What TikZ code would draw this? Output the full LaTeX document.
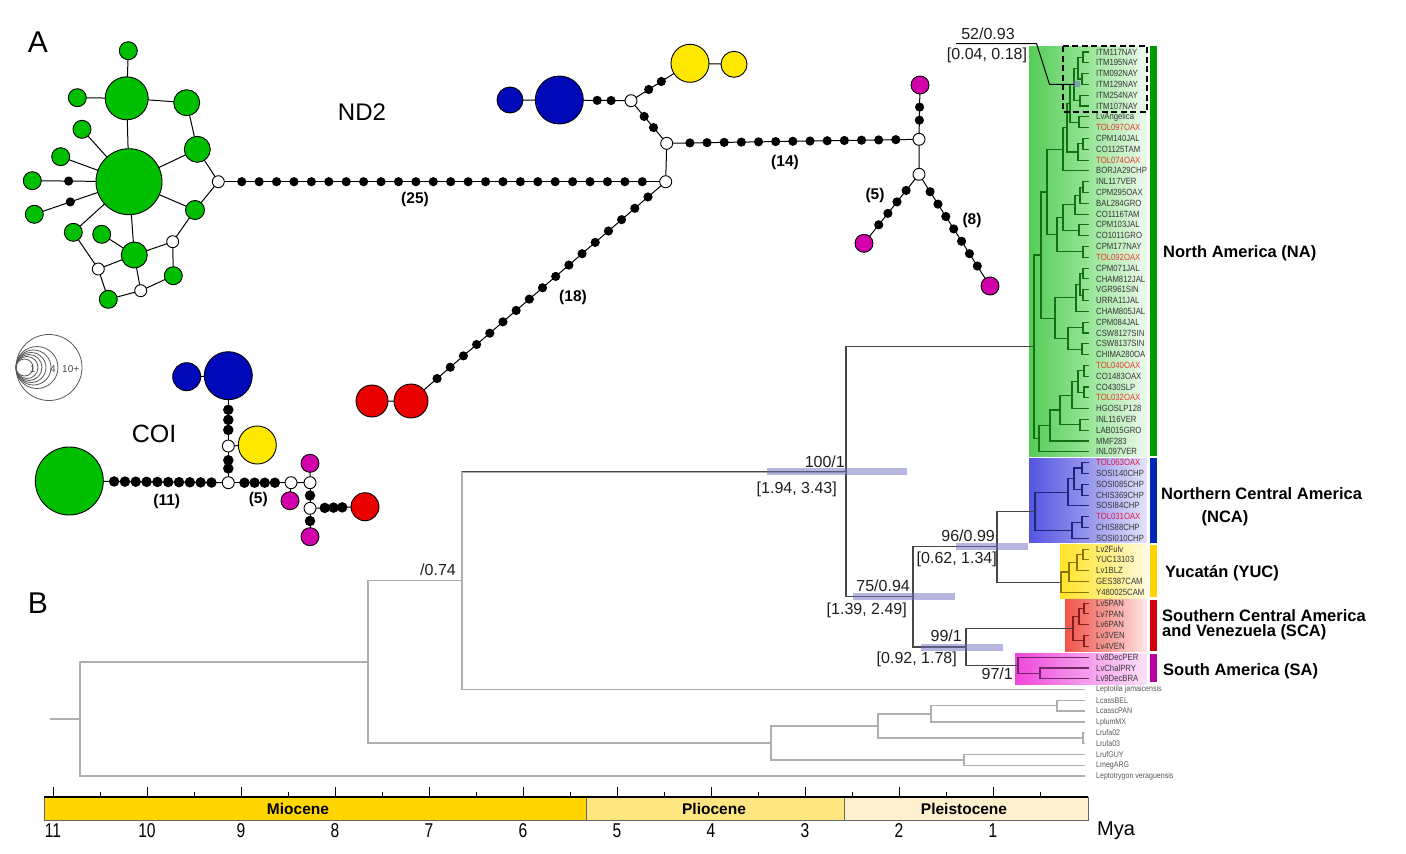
\documentclass[tikz,border=0pt]{standalone}
\usepackage{fontspec}
\setmainfont{Liberation Sans}
\newfontfamily\narrowfont{Liberation Sans}[FakeStretch=0.78]
\newfontfamily\tipfont{Liberation Sans}[FakeStretch=0.86]
\usetikzlibrary{calc}
\newcommand\myfs[1]{\fontsize{#1}{#1}\selectfont}
\definecolor{hgreen}{RGB}{0,190,0}
\definecolor{hblue}{RGB}{0,10,185}
\definecolor{hyellow}{RGB}{255,232,0}
\definecolor{hred}{RGB}{235,0,0}
\definecolor{hmag}{RGB}{210,0,170}
\definecolor{naL}{RGB}{85,205,85}
\definecolor{naM}{RGB}{150,228,150}
\definecolor{naR}{RGB}{238,250,238}
\definecolor{ncaL}{RGB}{85,85,225}
\definecolor{ncaM}{RGB}{150,150,238}
\definecolor{ncaR}{RGB}{228,228,252}
\definecolor{yucL}{RGB}{255,228,40}
\definecolor{yucM}{RGB}{255,238,120}
\definecolor{yucR}{RGB}{255,250,222}
\definecolor{scaL}{RGB}{240,85,75}
\definecolor{scaM}{RGB}{246,150,145}
\definecolor{scaR}{RGB}{255,230,230}
\definecolor{saL}{RGB}{240,70,220}
\definecolor{saM}{RGB}{246,150,236}
\definecolor{saR}{RGB}{252,226,250}
\definecolor{nabar}{RGB}{0,155,0}
\definecolor{ncabar}{RGB}{0,40,180}
\definecolor{yucbar}{RGB}{255,210,0}
\definecolor{scabar}{RGB}{210,0,10}
\definecolor{sabar}{RGB}{185,0,165}
\definecolor{nabrc}{RGB}{20,110,20}
\definecolor{ncabrc}{RGB}{35,35,120}
\definecolor{yucbrc}{RGB}{140,118,0}
\definecolor{scabrc}{RGB}{130,30,30}
\definecolor{sabrc}{RGB}{110,40,100}
\definecolor{bbc}{RGB}{70,70,70}
\definecolor{ogc}{RGB}{175,175,175}
\definecolor{tipgrey}{RGB}{55,55,55}
\definecolor{tipred}{RGB}{228,60,40}
\definecolor{tipredb}{RGB}{222,25,70}
\definecolor{hpdc}{RGB}{110,110,195}
\definecolor{mio}{RGB}{255,214,0}
\definecolor{plio}{RGB}{255,230,128}
\definecolor{pleis}{RGB}{255,240,205}
\newcommand\redt{\color{tipred}}
\newcommand\redb{\color{tipredb}}
% clade: [style]{name}{x}{child1}{child2}
\newcommand\mycl[5][]{%
  \path let \p1=($(#4)!0.5!(#5)$) in coordinate (#2) at (#3pt,\y1);
  \draw[#1] (#4) -| (#2) |- (#5);}
% chain of mutation dots: [dotstyle]{from}{to}{n dots}{prefix}
\newcommand\chain[5][bdot]{%
  \draw[edge] (#2) -- (#3) foreach \k in {1,...,#4} {node[#1,pos={\k/(#4+1)}] (#5\k) {}};}
\begin{document}
\begin{tikzpicture}[x=1pt,y=-1pt,
  hap/.style={circle,draw=black,line width=0.9pt,inner sep=0pt,outer sep=0pt},
  hG/.style={hap,fill=hgreen,minimum size=#1},
  hB/.style={hap,fill=hblue,minimum size=#1},
  hY/.style={hap,fill=hyellow,minimum size=#1},
  hR/.style={hap,fill=hred,minimum size=#1},
  hM/.style={hap,fill=hmag,minimum size=#1},
  wn/.style={hap,fill=white,minimum size=12pt},
  bdot/.style={circle,fill=black,inner sep=0pt,minimum size=9.2pt},
  cdot/.style={circle,fill=black,inner sep=0pt,minimum size=10.5pt},
  edge/.style={line width=1pt,black},
  mutlab/.style={font=\myfs{15.5}\bfseries,inner sep=0pt},
  bigl/.style={font=\myfs{24},inner sep=0pt},
  tip/.style={font=\tipfont\myfs{9},text=tipgrey,inner sep=0pt,anchor=west},
  otip/.style={font=\tipfont\myfs{8.2},text=black!65,inner sep=0pt,anchor=west},
  nabr/.style={draw=nabrc,line width=1.1pt},
  ncabr/.style={draw=ncabrc,line width=1.1pt},
  yucbr/.style={draw=yucbrc,line width=1.1pt},
  scabr/.style={draw=scabrc,line width=1.1pt},
  sabr/.style={draw=sabrc,line width=1.1pt},
  bb/.style={draw=bbc,line width=1.2pt},
  og/.style={draw=ogc,line width=1.4pt},
  hpd/.style={fill=hpdc,fill opacity=0.5},
  nl/.style={font=\myfs{16},text=black!88,inner sep=0pt},
  reg/.style={font=\myfs{16.5}\bfseries,inner sep=0pt},
  legc/.style={draw=black!65,line width=0.8pt},
  legt/.style={font=\myfs{10},text=black!70,inner sep=0pt}]
\useasboundingbox (0,0) rectangle (1406,854);
\fill[white] (0,0) rectangle (1406,854);

% ---------------- panel letters and titles
\node[font=\myfs{30},inner sep=0pt] (lettA) at (38,42) {A};
\node[font=\myfs{30},inner sep=0pt] (lettB) at (38,603) {B};
\node[bigl] (tND) at (362,112) {ND2};
\node[bigl,font=\myfs{25}] (tCOI) at (154,434) {COI};

% ---------------- ND2 network
\node[hG=66pt] (gC) at (129,181.7) {};
\node[hG=43pt] (gT) at (126.7,98.3) {};
\node[hG=18pt] (gTT) at (128.3,50.7) {};
\node[hG=18pt] (gTL) at (77.3,97.7) {};
\node[hG=26pt] (gTR) at (186.7,102.7) {};
\node[hG=26pt] (gRM) at (197.3,149.3) {};
\node[hG=18pt] (gUL) at (82,129.3) {};
\node[hG=18pt] (gL) at (60.7,156.7) {};
\node[hG=18pt] (gLF) at (32.3,180.7) {};
\node[hG=18pt] (gLL) at (34.3,214.3) {};
\node[hG=19pt] (gRL) at (195,210) {};
\node[hG=18pt] (gLo) at (73.3,232.3) {};
\node[hG=18pt] (gS) at (101.7,234.3) {};
\node[hG=26pt] (gLM) at (134.3,255) {};
\node[wn] (wR) at (218.3,181.7) {};
\node[wn] (wA) at (172.7,241.7) {};
\node[hG=18pt] (gB2) at (173.3,275.7) {};
\node[wn] (wB) at (98.3,269) {};
\node[wn] (wC) at (140.7,290.7) {};
\node[hG=18pt] (gB) at (108.3,299.3) {};
\draw[edge] (gC)--(gT) (gT)--(gTT) (gT)--(gTL) (gT)--(gTR) (gTR)--(gRM)
  (gRM)--(gC) (gRM)--(wR) (wR)--(gRL) (gC)--(gUL) (gC)--(gL) (gC)--(gLo)
  (gC)--(gRL) (gC)--(gLM) (gS)--(gLM) (gLM)--(wA) (wA)--(gRL) (wA)--(gB2)
  (gLM)--(wB) (wB)--(gLo) (wB)--(gB) (gLM)--(wC) (wC)--(gB) (wC)--(gB2);
\chain{gC}{gLF}{1}{dl}
\chain{gC}{gLL}{1}{dm}

\node[hB=26pt] (bS) at (510,100) {};
\node[hB=48pt] (bB) at (559.3,100) {};
\node[wn] (W2) at (631,100.7) {};
\node[hY=38pt] (yB) at (690,63.3) {};
\node[hY=26pt] (yS) at (734,64.3) {};
\node[wn] (W3) at (666.7,143.3) {};
\node[wn] (W4) at (665.7,181.7) {};
\node[wn] (W5) at (919,139.3) {};
\node[wn] (W6) at (919,174.3) {};
\node[hM=18pt] (m1) at (920,85) {};
\node[hM=18pt] (m2) at (864,243.3) {};
\node[hM=18pt] (m3) at (990,286) {};
\node[hR=34pt] (rB) at (411,401) {};
\node[hR=32pt] (rS) at (372,401) {};
\draw[edge] (bS)--(bB) (yB)--(yS) (rS)--(rB) (W3)--(W4) (W5)--(W6);
\chain{wR}{W4}{24}{da}
\chain{bB}{W2}{2}{db}
\chain{W2}{yB}{2}{dc}
\chain{W2}{W3}{2}{dd}
\chain{W3}{W5}{13}{de}
\chain{W4}{rB}{17}{df}
\chain{W5}{m1}{2}{dg}
\chain{W6}{m2}{4}{dh}
\chain{W6}{m3}{7}{di}
\node[mutlab] (l25) at (415,199) {(25)};
\node[mutlab] (l14) at (785,162) {(14)};
\node[mutlab] (l18) at (573,297) {(18)};
\node[mutlab] (l5a) at (875,195) {(5)};
\node[mutlab] (l8) at (972,220) {(8)};

% ---------------- legend
\foreach \r in {8.5,11,13,15,17.5,21,33} \draw[legc] ({16+\r},367.5) circle[radius=\r];
\node[legt] (lg1) at (32.7,369) {1};
\node[legt] (lg4) at (53,369) {4};
\node[legt] (lg10) at (70.7,369) {10+};

% ---------------- COI network
\node[hG=68pt] (cG) at (69.3,481) {};
\node[wn] (cW1) at (228.3,482.7) {};
\node[wn] (cW2) at (228.3,446) {};
\node[hY=38pt] (cY) at (257.3,445) {};
\node[hB=48pt] (cBB) at (228.3,375.7) {};
\node[hB=28pt] (cBS) at (186.7,376.7) {};
\node[wn] (cW3) at (291,482.7) {};
\node[wn] (cW4) at (310,482.7) {};
\node[hM=18pt] (cM1) at (310,463.3) {};
\node[hM=18pt] (cM2) at (290,500.7) {};
\node[wn] (cW5) at (310,508.3) {};
\node[hM=18pt] (cM3) at (310,536.7) {};
\node[hR=28pt] (cR) at (365,506.7) {};
\draw[edge] (cW2)--(cY) (cBB)--(cBS) (cW3)--(cW4) (cW3)--(cM2) (cW4)--(cM1);
\chain[cdot]{cG}{cW1}{10}{ea}
\chain[cdot]{cW1}{cW2}{2}{eb}
\chain[cdot]{cW2}{cBB}{3}{ec}
\chain[cdot]{cW1}{cW3}{4}{ed}
\chain[cdot]{cW4}{cW5}{1}{ee}
\chain[cdot]{cW5}{cM3}{1}{ef}
\chain[cdot]{cW5}{cR}{3}{eg}
\node[mutlab] (l11) at (166.7,501) {(11)};
\node[mutlab] (l5b) at (258.3,499) {(5)};

% ---------------- clade boxes
\shade[left color=naL,right color=naR,middle color=naM] (1029,46) rectangle (1147,456);
\shade[left color=ncaL,right color=ncaR,middle color=ncaM] (1029,458) rectangle (1147,542);
\shade[left color=yucL,right color=yucR,middle color=yucM] (1060,544) rectangle (1147,598);
\shade[left color=scaL,right color=scaR,middle color=scaM] (1065,599) rectangle (1147,651);
\shade[left color=saL,right color=saR,middle color=saM] (1015,653) rectangle (1147,684);
\fill[nabar] (1150,46) rectangle (1157,456);
\fill[ncabar] (1150,458) rectangle (1157,543);
\fill[yucbar] (1150,545) rectangle (1157,597);
\fill[scabar] (1150,600) rectangle (1157,651);
\fill[sabar] (1150,654) rectangle (1157,682);

% ---------------- tips
\foreach \nm [count=\i from 0] in {ITM117NAY,ITM195NAY,ITM092NAY,ITM129NAY,ITM254NAY,ITM107NAY,
  LvAngelica,{\redt TOL097OAX},CPM140JAL,CO1125TAM,{\redt TOL074OAX},BORJA29CHP,INL117VER,
  CPM295OAX,BAL284GRO,CO1116TAM,CPM103JAL,CO1011GRO,CPM177NAY,{\redt TOL092OAX},CPM071JAL,
  CHAM812JAL,VGR961SIN,URRA11JAL,CHAM805JAL,CPM084JAL,CSW8127SIN,CSW8137SIN,CHIMA280OA,
  {\redt TOL040OAX},CO1483OAX,CO430SLP,{\redt TOL032OAX},HGOSLP128,INL116VER,LAB015GRO,MMF283,
  INL097VER,{\redb TOL063OAX},SOSI140CHP,SOSI085CHP,CHIS369CHP,SOSI84CHP,{\redb TOL031OAX},
  CHIS88CHP,SOSI010CHP,Lv2Fulv,YUC13103,Lv1BLZ,GES387CAM,Y480025CAM,Lv5PAN,Lv7PAN,Lv6PAN,
  Lv3VEN,Lv4VEN,Lv8DecPER,LvChalPRY,Lv9DecBRA}{
  \coordinate (t\i) at (1089,{52+10.806*\i});
  \node[tip] (tl\i) at (1096,{52+10.806*\i}) {\nm};
}
\foreach \nm [count=\i from 59] in {Leptotila jamaicensis,LcassBEL,LcasscPAN,LplumMX,Lrufa02,
  Lrufa03,LrufGUY,LmegARG,Leptotrygon veraguensis}{
  \coordinate (t\i) at (1085,{52+10.806*\i});
  \node[otip] (tl\i) at (1096,{52+10.806*\i}) {\nm};
}

% ---------------- tree: North America
\mycl[nabr]{Ia}{1083}{t0}{t1}
\mycl[nabr]{Ib}{1082}{t2}{t3}
\mycl[nabr]{Ic}{1078}{Ia}{Ib}
\mycl[nabr]{Id}{1080}{t4}{t5}
\mycl[nabr]{ITM}{1074}{Ic}{Id}
\mycl[nabr]{La}{1079}{t6}{t7}
\mycl[nabr]{Lb}{1070}{ITM}{La}
\mycl[nabr]{Ca}{1083}{t8}{t9}
\mycl[nabr]{Cb}{1078}{Ca}{t10}
\mycl[nabr]{Cc}{1067}{Lb}{Cb}
\mycl[nabr]{Cd}{1063}{Cc}{t11}
\mycl[nabr]{Pa}{1083}{t12}{t13}
\mycl[nabr]{Pb}{1080}{Pa}{t14}
\mycl[nabr]{Pc}{1075}{Pb}{t15}
\mycl[nabr]{Qa}{1079}{t16}{t17}
\mycl[nabr]{Pd}{1063}{Pc}{Qa}
\mycl[nabr]{Ra}{1083}{t18}{t19}
\mycl[nabr]{Ytwo}{1057}{Pd}{Ra}
\mycl[nabr]{Yna}{1047}{Cd}{Ytwo}
\mycl[nabr]{Za}{1083}{t20}{t21}
\mycl[nabr]{Zb}{1083}{t22}{t23}
\mycl[nabr]{Zc}{1080}{Za}{Zb}
\mycl[nabr]{Zd}{1076}{Zc}{t24}
\mycl[nabr]{Ze}{1083}{t25}{t26}
\mycl[nabr]{Zf}{1082}{t27}{t28}
\mycl[nabr]{Zg}{1068}{Ze}{Zf}
\mycl[nabr]{Zone}{1055}{Zd}{Zg}
\mycl[nabr]{Wa}{1084}{t29}{t30}
\mycl[nabr]{Wb}{1084}{t31}{t32}
\mycl[nabr]{Wc}{1078}{Wa}{Wb}
\mycl[nabr]{Wd}{1072}{Wc}{t33}
\mycl[nabr]{We}{1080}{t34}{t35}
\mycl[nabr]{Wf}{1060}{Wd}{We}
\mycl[nabr]{Wg}{1050}{Wf}{t36}
\mycl[nabr]{Xna}{1041}{Yna}{Zone}
\mycl[nabr]{Wh}{1039}{Wg}{t37}
\mycl[nabr]{Rna}{1034}{Xna}{Wh}
% Northern Central America
\mycl[ncabr]{Na}{1082}{t38}{t39}
\mycl[ncabr]{Nb}{1082}{t40}{t41}
\mycl[ncabr]{Nab}{1074}{Na}{Nb}
\mycl[ncabr]{Nc}{1068}{Nab}{t42}
\mycl[ncabr]{Nd}{1082}{t43}{t44}
\mycl[ncabr]{Ne}{1072}{Nd}{t45}
\mycl[ncabr]{Nroot}{1035}{Nc}{Ne}
% Yucatan
\mycl[yucbr]{Ya}{1083}{t46}{t47}
\mycl[yucbr]{Yb}{1077}{Ya}{t48}
\mycl[yucbr]{Yc}{1069}{Yb}{t49}
\mycl[yucbr]{Yroot}{1061}{Yc}{t50}
% Southern Central America
\mycl[scabr]{Sa}{1084}{t51}{t52}
\mycl[scabr]{Sb}{1079}{Sa}{t53}
\mycl[scabr]{Sc}{1084}{t54}{t55}
\mycl[scabr]{Sroot}{1073}{Sb}{Sc}
% South America
\mycl[sabr]{Aa}{1040}{t57}{t58}
\mycl[sabr]{Aroot}{1018}{t56}{Aa}
% backbone
\mycl[bb]{n96}{997}{Nroot}{Yroot}
\mycl[bb]{n99}{966}{Sroot}{Aroot}
\mycl[bb]{n75}{913}{n96}{n99}
\mycl[bb]{n100}{846}{Rna}{n75}
% outgroups
\mycl[og]{n74}{462}{n100}{t59}
\draw[bb] (n74 |- n100) -- (n100);
\mycl[og]{Oa}{1057}{t60}{t61}
\mycl[og]{Ob}{931}{Oa}{t62}
\mycl[og]{Oc}{1083}{t63}{t64}
\mycl[og]{Od}{878}{Ob}{Oc}
\mycl[og]{Oe}{964}{t65}{t66}
\mycl[og]{Of}{771}{Od}{Oe}
\mycl[og]{n368}{368}{n74}{Of}
\mycl[og]{nroot}{80}{n368}{t67}
\path let \p1=(nroot) in coordinate (rstub) at (50pt,\y1);
\draw[og] (nroot) -- (rstub);

% HPD bars
\fill[hpd] ($(n100)+(-79,-3.5)$) rectangle ($(n100)+(61,3.5)$);
\fill[hpd] ($(n75)+(-60,-3.5)$) rectangle ($(n75)+(42,3.5)$);
\fill[hpd] ($(n96)+(-41,-3.5)$) rectangle ($(n96)+(31,3.5)$);
\fill[hpd] ($(n99)+(-45,-3.5)$) rectangle ($(n99)+(37,3.5)$);
\fill[hpd] ($(ITM)+(-1.5,-3)$) rectangle ($(ITM)+(6,3)$);

% node labels
\node[nl,anchor=south east] (s100) at ($(n100)+(-1,-4)$) {100/1};
\node[nl,anchor=north east] (h100) at ($(n100)+(-9,10)$) {[1.94, 3.43]};
\node[nl,anchor=south east] (s75) at ($(n75)+(-3,-5)$) {75/0.94};
\node[nl,anchor=north east] (h75) at ($(n75)+(-6,6)$) {[1.39, 2.49]};
\node[nl,anchor=south east] (s96) at ($(n96)+(-2,-5)$) {96/0.99};
\node[nl,anchor=north east] (h96) at ($(n96)+(0,5)$) {[0.62, 1.34]};
\node[nl,anchor=south east] (s99) at ($(n99)+(-4,-5)$) {99/1};
\node[nl,anchor=north east] (h99) at ($(n99)+(-9,5)$) {[0.92, 1.78]};
\node[nl,anchor=north east] (s97) at ($(Aroot)+(-5,2)$) {97/1};
\node[nl,anchor=south east] (s74) at ($(n74)+(-6,-5)$) {/0.74};
\node[nl] (l52) at (988,34) {52/0.93};
\node[nl] (l52b) at (987,55) {[0.04, 0.18]};
\coordinate (u1) at (956,43.5);
\coordinate (u2) at (1036.5,43.5);
\path let \p1=(ITM) in coordinate (u3) at (1049.5pt,\y1);
\draw[line width=1pt,black] (u1) -- (u2) -- (u3) -- (ITM);
\draw[dashed,line width=1.8pt,dash pattern=on 6pt off 3.5pt] (1063,46) rectangle (1147,112);

% region labels
\node[reg,anchor=west] (rNA) at (1163,253) {North America (NA)};
\node[reg,anchor=west] (rNCA1) at (1161,494) {Northern Central America};
\node[reg] (rNCA2) at (1225,518) {(NCA)};
\node[reg,anchor=west] (rYUC) at (1165,573) {Yucatán (YUC)};
\node[reg,anchor=west] (rSCA1) at (1162,616) {Southern Central America};
\node[reg,anchor=west] (rSCA2) at (1162,632) {and Venezuela (SCA)};
\node[reg,anchor=west] (rSA) at (1163,671) {South America (SA)};

% ---------------- time axis
\fill[mio] (44,797) rectangle (586,820);
\fill[plio] (586,797) rectangle (844,820);
\fill[pleis] (844,797) rectangle (1088,820);
\draw[black!60,line width=0.8pt] (44,797) rectangle (1088,820);
\draw[black!60,line width=0.8pt] (586,797) -- (586,820) (844,797) -- (844,820);
\draw[black,line width=1.2pt] (44,797) -- (1088,797);
\foreach \t in {1,...,11} \draw[black,line width=1pt] ({1087-94*\t},787) -- ({1087-94*\t},797);
\foreach \t in {0.5,1.5,...,10.5} \draw[black,line width=1pt] ({1087-94*\t},792) -- ({1087-94*\t},797);
\foreach \t in {1,...,11} \node[font=\narrowfont\myfs{20},inner sep=0pt] (tk\t) at ({1087-94*\t},831) {\t};
\node[font=\myfs{20},inner sep=0pt,anchor=west] (mya) at (1097,831) {Mya};
\node[font=\myfs{15.5}\bfseries,inner sep=0pt] (pMio) at (298,808.5) {Miocene};
\node[font=\myfs{15.5}\bfseries,inner sep=0pt] (pPlio) at (714,808.5) {Pliocene};
\node[font=\myfs{15.5}\bfseries,inner sep=0pt] (pPle) at (964,808.5) {Pleistocene};
\end{tikzpicture}
\end{document}
